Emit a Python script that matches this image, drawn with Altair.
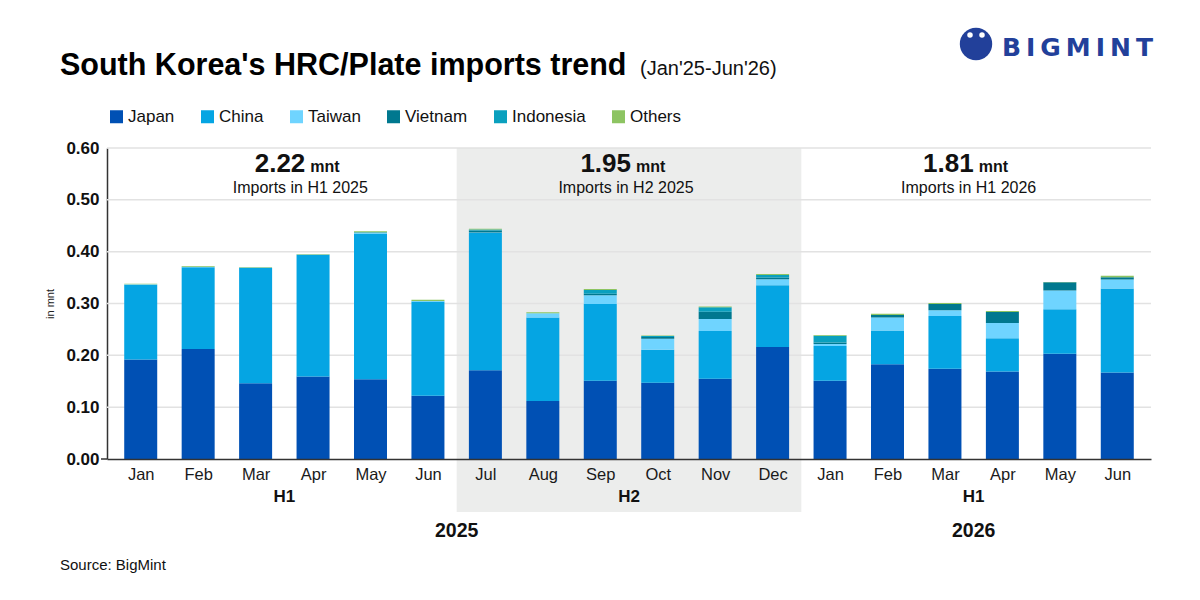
import json
import altair as alt
import pandas as pd

# ---------------- data ----------------
months = ["Jan", "Feb", "Mar", "Apr", "May", "Jun", "Jul", "Aug", "Sep", "Oct", "Nov", "Dec",
          "Jan", "Feb", "Mar", "Apr", "May", "Jun"]
month_half = ["H1"] * 6 + ["H2"] * 6 + ["H1"] * 6
month_year = ["2025"] * 12 + ["2026"] * 6
countries = ["Japan", "China", "Taiwan", "Vietnam", "Indonesia", "Others"]

japan = [0.192, 0.212, 0.146, 0.159, 0.154, 0.122, 0.171, 0.112, 0.151, 0.147, 0.155, 0.216,
         0.151, 0.183, 0.174, 0.169, 0.203, 0.167]
china = [0.144, 0.158, 0.223, 0.235, 0.281, 0.182, 0.265, 0.161, 0.148, 0.064, 0.092, 0.119,
         0.067, 0.065, 0.102, 0.064, 0.086, 0.162]
taiwan = [0.001, 0.001, 0.0005, 0.0005, 0.001, 0.001, 0.001, 0.008, 0.017, 0.021, 0.023, 0.012,
          0.004, 0.025, 0.011, 0.0295, 0.036, 0.0175]
vietnam = [0.0, 0.0, 0.0, 0.0, 0.0005, 0.0, 0.004, 0.0, 0.003, 0.0035, 0.014, 0.003,
           0.003, 0.005, 0.012, 0.021, 0.016, 0.004]
indonesia = [0.0, 0.0, 0.0, 0.0, 0.001, 0.0, 0.002, 0.0, 0.007, 0.002, 0.009, 0.005,
             0.013, 0.0, 0.0, 0.0, 0.0, 0.0]
others = [0.001, 0.0015, 0.001, 0.001, 0.002, 0.002, 0.001, 0.002, 0.002, 0.001, 0.001, 0.002,
          0.001, 0.002, 0.002, 0.002, 0.0005, 0.003]
series = [japan, china, taiwan, vietnam, indonesia, others]

half_keys = ["H1 2025", "H2 2025", "H1 2026"]
half_labels = ["H1", "H2", "H1"]
half_totals = ["2.22", "1.95", "1.81"]
half_notes = ["Imports in H1 2025", "Imports in H2 2025", "Imports in H1 2026"]
years = ["2025", "2026"]
y_ticks = [0.0, 0.1, 0.2, 0.3, 0.4, 0.5, 0.6]

title_text = "South Korea's HRC/Plate imports trend"
subtitle_text = "(Jan'25-Jun'26)"
source_text = "Source: BigMint"
logo_text = "B\u2009I\u2009G\u2009M\u2009I\u2009N\u2009T"

# ---------------- styles ----------------
colors = ["#0050B4", "#05A5E3", "#6FD4FF", "#00788F", "#0AA0BE", "#8DC462"]
FONT = "Liberation Sans"
LOGO_BLUE = "#22409A"
W, H = 1044, 311

rows = []
for i, m in enumerate(months):
    for k, (c, vals) in enumerate(zip(countries, series)):
        rows.append({"idx": i, "month": m, "country": c, "order": k, "value": vals[i]})
df = pd.DataFrame(rows)

half_key_of_month = [f"{h} {y}" for h, y in zip(month_half, month_year)]
half_center = [sum(i for i, k in enumerate(half_key_of_month) if k == key) /
               half_key_of_month.count(key) for key in half_keys]
year_center = [sum(i for i, y in enumerate(month_year) if y == yr) / month_year.count(yr)
               for yr in years]
h2_idx = [i for i, k in enumerate(half_key_of_month) if k == "H2 2025"]

xscale = alt.Scale(domain=[-0.5, len(months) - 0.5], nice=False, zero=False)
yscale = alt.Scale(domain=[0, 0.6], nice=False, zero=True)

one = pd.DataFrame({"a": [0]})


def xq(field):
    return alt.X(field, scale=xscale, title=None)


# shaded H2 band
shade = alt.Chart(pd.DataFrame({"x": [min(h2_idx) - 0.5], "x2": [max(h2_idx) + 0.5]})).mark_rect(
    color="#ECEDEC").encode(
    x=xq("x:Q"), x2="x2",
    y=alt.value(0), y2=alt.value(364))

grid = alt.Chart(pd.DataFrame({"v": y_ticks[1:]})).mark_rule(color="#E2E2E2", strokeWidth=1.5).encode(
    y=alt.Y("v:Q", scale=yscale, title="in mnt"))

# short extension of the baseline to the left of the y axis
base_tick = alt.Chart(pd.DataFrame({"v": [0.0]})).mark_rule(color="#333333", strokeWidth=1.5).encode(
    y=alt.Y("v:Q", scale=yscale, title="in mnt"), x=alt.value(-6), x2=alt.value(0))

label_expr = json.dumps(months) + "[datum.value]"

bars = alt.Chart(df).mark_bar(size=33).encode(
    x=alt.X("idx:Q", scale=xscale, title=None,
            axis=alt.Axis(values=list(range(len(months))), labelExpr=label_expr, ticks=False,
                          grid=False, domainColor="#333333", domainWidth=1.5, labelFontSize=16.5,
                          labelColor="#1a1a1a", labelPadding=7, zindex=1,
                          labelFlush=False, labelOverlap=False, labelFont=FONT)),
    y=alt.Y("value:Q", stack="zero", scale=yscale, title="in mnt",
            axis=alt.Axis(values=y_ticks, format=".2f", grid=False, ticks=False, labelFontSize=17,
                          labelFontWeight="bold", labelColor="#111111", domainColor="#333333",
                          domainWidth=1.5, titleFontSize=11,
                          titleFontWeight="normal", titleColor="#222222", titlePadding=10,
                          labelPadding=8, labelFont=FONT, titleFont=FONT)),
    color=alt.Color("country:N", scale=alt.Scale(domain=countries, range=colors),
                    legend=alt.Legend(title=None, orient="none", legendX=1, legendY=-40,
                                      direction="horizontal", symbolType="square",
                                      symbolSize=169, symbolStrokeWidth=0, labelFontSize=17,
                                      labelColor="#111111", columnPadding=24, labelOffset=3,
                                      padding=0, labelFont=FONT)),
    order=alt.Order("order:Q", sort="ascending"),
)

layers = [shade, grid, base_tick, bars]

# half-year annotations
annot_dx = [16, -3, -5]
for k in range(len(half_keys)):
    d = pd.DataFrame({"x": [half_center[k]], "tot": [half_totals[k]], "note": [half_notes[k]],
                      "h": [half_labels[k]]})
    base = alt.Chart(d)
    layers.append(base.mark_text(font=FONT, fontSize=26, fontWeight="bold", align="right",
                                 baseline="alphabetic", color="#111111", dx=annot_dx[k] + 5).encode(
        x=xq("x:Q"), y=alt.value(24), text="tot:N"))
    layers.append(base.mark_text(font=FONT, fontSize=16, fontWeight="bold", align="left",
                                 baseline="alphabetic", color="#111111", dx=annot_dx[k] + 10).encode(
        x=xq("x:Q"), y=alt.value(24), text=alt.value("mnt")))
    layers.append(base.mark_text(font=FONT, fontSize=16, align="center",
                                 baseline="alphabetic", color="#111111", dx=annot_dx[k]).encode(
        x=xq("x:Q"), y=alt.value(45), text="note:N"))
    layers.append(base.mark_text(font=FONT, fontSize=17, fontWeight="bold", align="center",
                                 baseline="middle", color="#111111").encode(
        x=xq("x:Q"), y=alt.value(349), text="h:N"))

year_df = pd.DataFrame({"x": year_center, "yr": years})
layers.append(alt.Chart(year_df).mark_text(font=FONT, fontSize=19.5, fontWeight="bold",
                                           align="center", baseline="middle",
                                           color="#111111").encode(
    x=xq("x:Q"), y=alt.value(383), text="yr:N"))

# title, subtitle, source
layers.append(alt.Chart(one).mark_text(font=FONT, fontSize=30.5, fontWeight="bold", align="left",
                                       baseline="alphabetic", color="#000000").encode(
    x=alt.value(-47), y=alt.value(-73), text=alt.value(title_text)))
layers.append(alt.Chart(one).mark_text(font=FONT, fontSize=20, align="left",
                                       baseline="alphabetic", color="#111111").encode(
    x=alt.value(533), y=alt.value(-73), text=alt.value(subtitle_text)))
layers.append(alt.Chart(one).mark_text(font=FONT, fontSize=15, align="left",
                                       baseline="middle", color="#111111").encode(
    x=alt.value(-47), y=alt.value(417), text=alt.value(source_text)))

# logo
layers.append(alt.Chart(one).mark_point(filled=True, shape="circle", size=1050, color=LOGO_BLUE,
                                        opacity=1).encode(x=alt.value(869), y=alt.value(-104)))
layers.append(alt.Chart(one).mark_point(filled=True, shape="circle", size=30, color="white",
                                        opacity=1).encode(x=alt.value(863), y=alt.value(-113)))
layers.append(alt.Chart(one).mark_point(filled=True, shape="circle", size=30, color="white",
                                        opacity=1).encode(x=alt.value(875), y=alt.value(-113)))
layers.append(alt.Chart(one).mark_text(font="DejaVu Sans", fontSize=25, fontWeight="bold",
                                       align="left", baseline="middle", color=LOGO_BLUE).encode(
    x=alt.value(895), y=alt.value(-100), text=alt.value(logo_text)))

chart = alt.layer(*layers).properties(
    width=W, height=H,
    padding={"left": 99, "top": 140, "right": 40, "bottom": 130},
    autosize=alt.AutoSizeParams(type="none"),
).configure(font=FONT, background="white").configure_view(
    strokeWidth=0, stroke="transparent").configure_axis(grid=False)

chart.save("out.html", embed_options={"renderer": "svg", "actions": False})
